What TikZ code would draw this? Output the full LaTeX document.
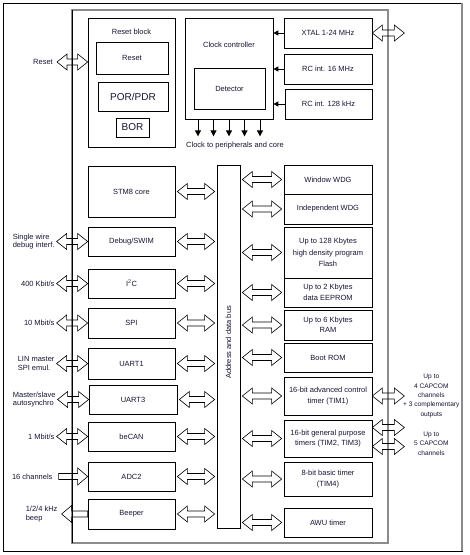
\documentclass[tikz,border=0pt]{standalone}
\usepackage{fontspec}
\setmainfont{Liberation Sans}
\usetikzlibrary{calc,arrows.meta}
\definecolor{inktxt}{RGB}{20,20,50}
\definecolor{chipgray}{RGB}{140,140,140}
\tikzset{
  blk/.style={draw, line width=0.7pt, inner sep=0pt, align=center, text=inktxt, font=\fontsize{7.5}{10.5}\selectfont},
  lbl/.style={inner sep=0pt, text=inktxt, font=\fontsize{7.5}{8.2}\selectfont},
  pinlbl/.style={lbl, align=center, font=\fontsize{6.6}{9.3}\selectfont},
  busarrow/.style={draw, line width=0.6pt, line join=miter},
  clkarrow/.style={line width=0.8pt, -{Triangle[length=6pt,width=6pt]}},
  oscarrow/.style={line width=0.8pt, -{Triangle[length=5pt,width=5pt]}},
}
% hollow double arrow between two points on one level
\newcommand{\dbarrow}[3][0pt]{%
  \draw[busarrow] let \p1=(#2), \p2=(#3) in
    (\x1+#1,\y1) -- (\x1+#1+10pt,\y1+8pt) -- (\x1+#1+10pt,\y1+3pt)
    -- (\x2-#1-10pt,\y1+3pt) -- (\x2-#1-10pt,\y1+8pt) -- (\x2-#1,\y1)
    -- (\x2-#1-10pt,\y1-8pt) -- (\x2-#1-10pt,\y1-3pt)
    -- (\x1+#1+10pt,\y1-3pt) -- (\x1+#1+10pt,\y1-8pt) -- cycle;}
% hollow single arrow, tip at the second point
\newcommand{\onearrow}[2]{%
  \draw[busarrow] let \p1=(#1), \p2=(#2), \n1={sign(\x2-\x1)} in
    (\x1,\y1+3pt) -- (\x2-10pt*\n1,\y1+3pt) -- (\x2-10pt*\n1,\y1+8.5pt)
    -- (\x2,\y1) -- (\x2-10pt*\n1,\y1-8.5pt) -- (\x2-10pt*\n1,\y1-3pt)
    -- (\x1,\y1-3pt) -- cycle;}
\begin{document}
\begin{tikzpicture}[x=1pt,y=-1pt]
\useasboundingbox (0,0) rectangle (470,555);
% frame and chip outline
\draw[line width=0.7pt] (3,3) rectangle (462,551);
\draw[chipgray, line width=1.5pt] (462,3) -- (462,551);
\draw[chipgray, line width=1.3pt] (72,10) rectangle (388,543);
\draw[chipgray, line width=2pt] (72,10) -- (388,10);
\draw[line width=0.7pt] (72,10) -- (72,543);

% reset block
\node[blk, minimum width=87pt, minimum height=129pt] (rstblk) at (131.5,82.5) {};
\node[lbl] (rstttl) at ([yshift=-14pt]rstblk.north) {Reset block};
\node[blk, minimum width=72pt, minimum height=32pt] (rst) at (132,58) {Reset};
\node[blk, minimum width=70pt, minimum height=29pt, font=\fontsize{10}{12}\selectfont] (por) at (133,96.5) {POR/PDR};
\node[blk, minimum width=33pt, minimum height=19pt, font=\fontsize{10}{12}\selectfont] (bor) at (132.5,127.5) {BOR};

% clock controller
\node[blk, minimum width=88pt, minimum height=101pt] (clk) at (229,68.5) {};
\node[lbl] (clkttl) at ([yshift=-27pt]clk.north) {Clock controller};
\node[blk, minimum width=71pt, minimum height=41pt] (det) at (229.5,88.5) {Detector};
\node[blk, minimum width=88pt, minimum height=30pt] (xtal) at (328,33) {XTAL 1-24 MHz};
\node[blk, minimum width=88pt, minimum height=30pt] (rc16) at (328,69) {RC int. 16 MHz};
\node[blk, minimum width=87pt, minimum height=30pt] (rc128) at (328.5,104) {RC int. 128 kHz};
\foreach \b in {xtal,rc16,rc128}
  \draw[oscarrow] (\b.west) -- (clk.east |- \b.west);
\foreach \dx in {-31,-15.5,0,15.5,31}
  \draw[clkarrow] ([xshift=\dx pt]clk.south) -- ++(0,17);
\node[lbl] (clklbl) at ([xshift=6pt,yshift=-26pt]clk.south) {Clock to peripherals and core};

% bus
\node[blk, minimum width=23pt, minimum height=363pt] (bus) at (228.5,346.5) {};
\node[lbl, rotate=90] (buslbl) at ([yshift=4pt]bus.center) {Address and data bus};

% left column
\node[blk, minimum width=87pt, minimum height=51pt] (core) at (131.5,191.5) {STM8 core};
\node[blk, minimum width=87pt, minimum height=29pt] (dbg) at (131.5,241.5) {Debug/SWIM};
\node[blk, minimum width=87pt, minimum height=29pt] (i2c) at (131.5,283.5) {I\textsuperscript{2}C};
\node[blk, minimum width=87pt, minimum height=30pt] (spi) at (131.5,323) {SPI};
\node[blk, minimum width=87pt, minimum height=31pt] (uart1) at (131.5,363.5) {UART1};
\node[blk, minimum width=88pt, minimum height=29pt] (uart3) at (133,399.5) {UART3};
\node[blk, minimum width=87pt, minimum height=29pt] (becan) at (131.5,436.5) {beCAN};
\node[blk, minimum width=87pt, minimum height=29pt] (adc) at (131.5,476.5) {ADC2};
\node[blk, minimum width=87pt, minimum height=30pt] (beep) at (131.5,514) {Beeper};

% right column
\node[blk, minimum width=88pt, minimum height=29pt] (wwdg) at (328,179.5) {Window WDG};
\node[blk, minimum width=88pt, minimum height=30pt] (iwdg) at (328,209) {Independent WDG};
\node[blk, minimum width=88pt, minimum height=51pt, font=\fontsize{7.5}{11.5}\selectfont] (flash) at (328,252.5) {Up to 128 Kbytes\\high density program\\Flash};
\node[blk, minimum width=88pt, minimum height=29pt] (eeprom) at (328,292.5) {Up to 2 Kbytes\\data EEPROM};
\node[blk, minimum width=88pt, minimum height=30pt] (ram) at (328,325) {Up to 6 Kbytes\\RAM};
\node[blk, minimum width=88pt, minimum height=29pt] (brom) at (328,357.5) {Boot ROM};
\node[blk, minimum width=88pt, minimum height=38pt] (tim1) at (328,396) {16-bit advanced control\\timer (TIM1)};
\node[blk, minimum width=88pt, minimum height=37pt] (tim23) at (328,438.5) {16-bit general purpose\\timers (TIM2, TIM3)};
\node[blk, minimum width=88pt, minimum height=34pt] (tim4) at (328,479) {8-bit basic timer\\(TIM4)};
\node[blk, minimum width=88pt, minimum height=29pt] (awu) at (328,522.5) {AWU timer};

% bus connections
\foreach \b in {core,dbg,i2c,spi,uart1,uart3,becan,adc,beep}
  \dbarrow[2pt]{\b.east}{bus.west |- \b.east};
\foreach \b in {wwdg,iwdg,flash,eeprom,ram,brom,tim1,tim23,tim4,awu}
  \dbarrow[2pt]{bus.east |- \b.west}{\b.west};

% pins
\coordinate (rstpin) at (57,62);
\dbarrow{rstpin}{rstblk.west |- rstpin};
\node[lbl, anchor=east] (rstlbl) at ([xshift=-4pt]rstpin) {Reset};
\foreach \b in {dbg,i2c,spi,uart1,uart3,becan}
  \dbarrow{[xshift=-31pt]\b.west}{\b.west};
\node[lbl, anchor=east, align=left] (dbglbl) at ([xshift=-33pt]dbg.west) {Single wire\\debug interf.};
\node[lbl, anchor=east] (i2clbl) at ([xshift=-33pt]i2c.west) {400 Kbit/s};
\node[lbl, anchor=east] (spilbl) at ([xshift=-33pt]spi.west) {10 Mbit/s};
\node[lbl, anchor=east, align=left] (uart1lbl) at ([xshift=-33pt]uart1.west) {LIN master\\SPI emul.};
\node[lbl, anchor=east, align=left] (uart3lbl) at ([xshift=-33pt]uart3.west) {Master/slave\\autosynchro};
\node[lbl, anchor=east] (becanlbl) at ([xshift=-33pt]becan.west) {1 Mbit/s};
\onearrow{[xshift=-29pt]adc.west}{adc.west};
\node[lbl, anchor=east] (adclbl) at ([xshift=-35pt]adc.west) {16 channels};
\onearrow{beep.west}{[xshift=-26pt]beep.west};
\node[lbl, anchor=east, align=left] (beeplbl) at ([xshift=-30pt]beep.west) {1/2/4 kHz\\beep};

\dbarrow{xtal.east}{[xshift=32pt]xtal.east};
\dbarrow{tim1.east}{[xshift=32pt]tim1.east};
\dbarrow{[yshift=11pt]tim23.east}{[xshift=32pt,yshift=11pt]tim23.east};
\dbarrow{[yshift=-8pt]tim23.east}{[xshift=32pt,yshift=-8pt]tim23.east};
\node[pinlbl] (tim1lbl) at ([xshift=59pt]tim1.east) {Up to\\4 CAPCOM\\channels\\+ 3 complementary\\outputs};
\node[pinlbl] (tim23lbl) at ([xshift=59pt,yshift=-5pt]tim23.east) {Up to\\5 CAPCOM\\channels};
\end{tikzpicture}
\end{document}
